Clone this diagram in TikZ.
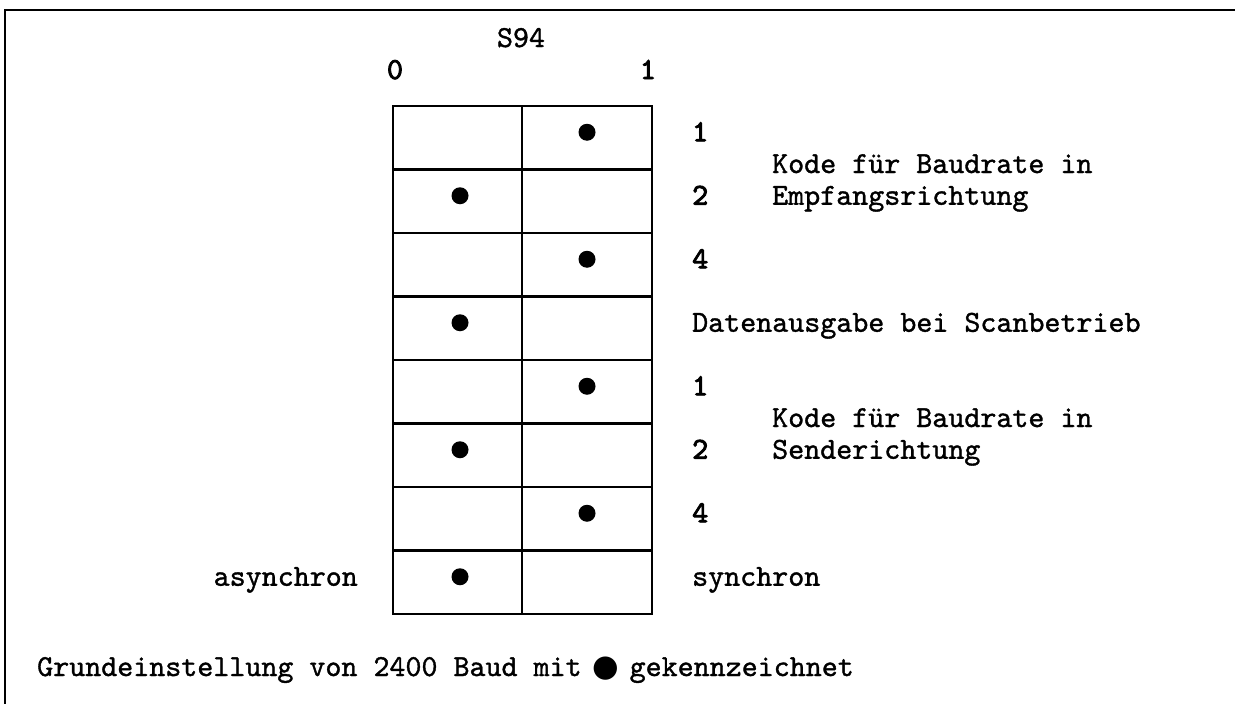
\documentclass[tikz,border=0pt]{standalone}
\usepackage{fontspec}
\newfontfamily\symfont{DejaVu Sans}
\newfontfamily\txtfont{lmmono10-regular.otf}[FakeBold=1.2]
\newfontfamily\digfont{lmmono10-regular.otf}[FakeBold=3]
\begin{document}
\begin{tikzpicture}[x=1pt,y=-1pt,
  lbl/.style={font=\txtfont\fontsize{30.5}{34}\selectfont, inner sep=0pt, anchor=base west},
  lble/.style={lbl, anchor=base east},
  lblc/.style={lbl, anchor=base},
  num/.style={lbl, font=\digfont\fontsize{30.5}{34}\selectfont},
  numc/.style={num, anchor=base},
  gridline/.style={line width=2.6pt, line cap=rect},
  frame/.style={line width=2.8pt},
  dot/.style={fill=black}]
\useasboundingbox (0,0) rectangle (1235,704);
% frame (top and left only)
\draw[frame] (1235,10) -- (5,10) -- (5,704);
% grid
\def\gtop{106}\def\rh{63.5}
\draw[gridline] (393,106) rectangle (652,614);
\draw[gridline] (522,106) -- (522,614);
\foreach \i in {1,...,7}{
  \draw[gridline] (393,{\gtop+\i*\rh}) -- (652,{\gtop+\i*\rh});
}
% bullets
\foreach \i in {1,3,5,7}{
  \fill[dot] (587,{\gtop+(\i-0.5)*\rh-5.5}) circle[radius=8.5pt];
}
\foreach \i in {2,4,6,8}{
  \fill[dot] (460,{\gtop+(\i-0.5)*\rh-5.5}) circle[radius=8.5pt];
}
% header
\node[lblc] (s94) at (521,47) {S94};
\node[numc] (zero) at (395,79) {0};
\node[numc] (one) at (648,79) {1};
% right labels
\node[num] (r1) at (692,{\gtop+0.5*\rh+3.5}) {1};
\node[lbl] (k1a) at (772,{\gtop+1*\rh+3.5}) {Kode für Baudrate in};
\node[num] (r2) at (692,{\gtop+1.5*\rh+3.5}) {2};
\node[lbl] (k1b) at (772,{\gtop+1.5*\rh+3.5}) {Empfangsrichtung};
\node[num] (r4) at (692,{\gtop+2.5*\rh+3.5}) {4};
\node[lbl] (scan) at (692,{\gtop+3.5*\rh+3.5}) {Datenausgabe bei Scanbetrieb};
\node[num] (s1) at (692,{\gtop+4.5*\rh+3.5}) {1};
\node[lbl] (k2a) at (772,{\gtop+5*\rh+3.5}) {Kode für Baudrate in};
\node[num] (s2) at (692,{\gtop+5.5*\rh+3.5}) {2};
\node[lbl] (k2b) at (772,{\gtop+5.5*\rh+3.5}) {Senderichtung};
\node[num] (s4) at (692,{\gtop+6.5*\rh+3.5}) {4};
\node[lbl] (syn) at (692,{\gtop+7.5*\rh+3.5}) {synchron};
\node[lble] (asyn) at (358,{\gtop+7.5*\rh+3.5}) {asynchron};
% footer
\node[lbl] (foot) at (37,676) {Grundeinstellung von 2400 Baud mit \makebox[0.525em]{\symfont ●} gekennzeichnet};
\end{tikzpicture}
\end{document}
